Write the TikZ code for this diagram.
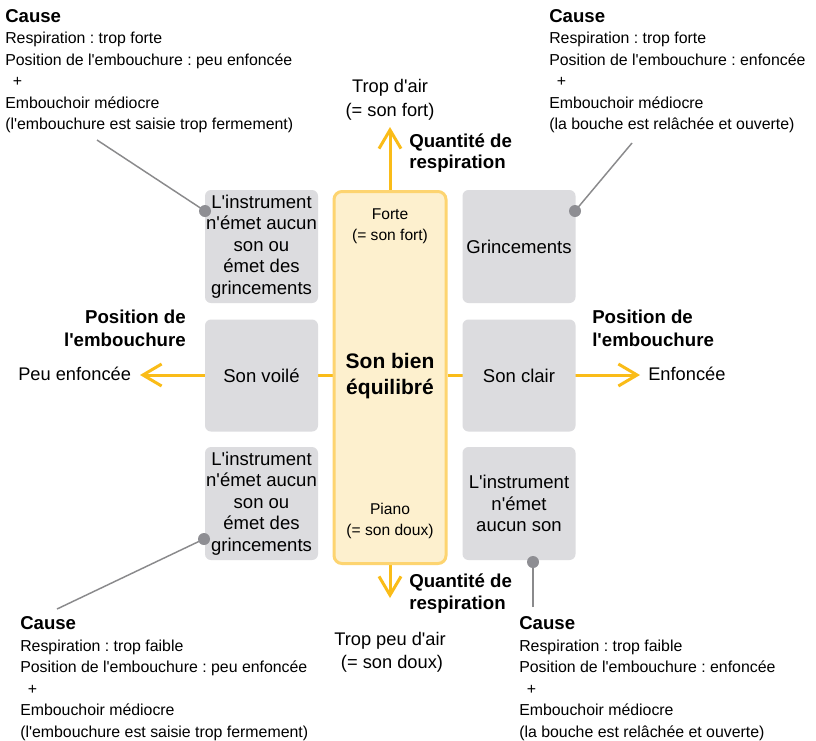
\documentclass[tikz,border=0pt]{standalone}
\usepackage{fontspec}
\setmainfont{Liberation Sans}[Ligatures=TeXOff]
\usetikzlibrary{arrows.meta,backgrounds}
\definecolor{flowY}{RGB}{250,188,24}
\definecolor{midfill}{RGB}{253,240,206}
\definecolor{midborder}{RGB}{253,212,112}
\definecolor{boxgray}{RGB}{220,220,223}
\definecolor{dotgray}{RGB}{142,142,147}
\definecolor{leadgray}{RGB}{138,138,140}
\frenchspacing
\begin{document}
\begin{tikzpicture}[x=0.75pt,y=-0.75pt,
  chead/.style={anchor=base west,inner sep=0,font=\bfseries\fontsize{13.95}{16}\selectfont},
  cbody/.style={anchor=base west,inner sep=0,font=\fontsize{11.9}{14}\selectfont},
  lbl/.style={inner sep=0,font=\fontsize{13.7}{16}\selectfont},
  blbl/.style={inner sep=0,font=\bfseries\fontsize{14}{16}\selectfont},
  small/.style={inner sep=0,anchor=base,font=\fontsize{11.7}{14}\selectfont},
  graybox/.style={fill=boxgray,rounded corners=4.5pt,minimum width=84.75pt,minimum height=84.75pt,align=center,inner sep=0,font=\fontsize{13.9}{16.125}\selectfont},
  flow/.style={draw=flowY,line width=2.25pt,-{Straight Barb[length=14pt,width=16.5pt]}},
  leader/.style={draw=leadgray,line width=1.1pt},
  dotmark/.style={fill=dotgray}
]
\useasboundingbox (0,0) rectangle (816,740);

% central box
\node[draw=midborder,fill=midfill,line width=2.25pt,rounded corners=6pt,minimum width=84pt,minimum height=279pt,inner sep=0] (mid) at (390,377.5) {};
\node[small] (forte) at (390,219.7) {Forte};
\node[small] (fortep) at (390,240.7) {(= son fort)};
\node[inner sep=0,anchor=base,font=\bfseries\fontsize{15.75}{19.5}\selectfont] (sb1) at (390,368.3) {Son bien};
\node[inner sep=0,anchor=base,font=\bfseries\fontsize{15.75}{19.5}\selectfont] (sb2) at (390,394.3) {équilibré};
\node[small] (piano) at (390,514.7) {Piano};
\node[small] (pianop) at (390,535.7) {(= son doux)};

% gray boxes
\node[graybox] (tl) at (261.5,246.5) {L'instrument\\n'émet aucun\\son ou\\émet des\\grincements};
\node[graybox,minimum height=84pt] (ml) at (261.5,375.5) {Son voilé};
\node[graybox] (bl) at (261.5,503.5) {L'instrument\\n'émet aucun\\son ou\\émet des\\grincements};
\node[graybox] (tr) at (519,246.5) {Grincements};
\node[graybox,minimum height=84pt] (mr) at (519,375.5) {Son clair};
\node[graybox] (br) at (519,503.5) {L'instrument\\n'émet\\aucun son};

% axes
\coordinate (tipL) at (140,375);
\coordinate (tipR) at (640,375);
\coordinate (tipT) at (390,127);
\coordinate (tipB) at (390,598);
\begin{scope}[on background layer]
\fill[white] (0,0) rectangle (816,740);
\draw[flow] (mid.west |- tipL) -- (tipL);
\draw[flow] (mid.east |- tipR) -- (tipR);
\draw[flow] (mid.north) -- (tipT);
\draw[flow] (mid.south) -- (tipB);
\end{scope}

% axis labels
\node[lbl,anchor=base] (air1) at (390,92.5) {Trop d'air};
\node[lbl,anchor=base] (air2) at (390,116.5) {(= son fort)};
\node[blbl,anchor=base west] (qt1) at (409,147.5) {Quantité de};
\node[blbl,anchor=base west] (qt2) at (409,168) {respiration};
\node[blbl,anchor=base west] (qb1) at (409,587.5) {Quantité de};
\node[blbl,anchor=base west] (qb2) at (409,609.5) {respiration};
\node[lbl,anchor=base] (pa1) at (390,645.5) {Trop peu d'air};
\node[lbl,anchor=base] (pa2) at (392,668.5) {(= son doux)};
\node[blbl,anchor=base east] (pl1) at (186,323.5) {Position de};
\node[blbl,anchor=base east] (pl2) at (186,346.5) {l'embouchure};
\node[lbl,anchor=base west] (pe) at (18,380.5) {Peu enfoncée};
\node[blbl,anchor=base west] (pr1) at (592,323.5) {Position de};
\node[blbl,anchor=base west] (pr2) at (592,346.5) {l'embouchure};
\node[lbl,anchor=base west] (en) at (648,380.5) {Enfoncée};

% cause top-left
\node[chead] (atlh) at (5,22) {Cause};
\node[cbody] (atl1) at (5,43.5) {Respiration : trop forte};
\node[cbody] (atl2) at (5,65) {Position de l'embouchure : peu enfoncée};
\node[cbody] (atl3) at (12.5,86.5) {+};
\node[cbody] (atl4) at (5,108) {Embouchoir médiocre};
\node[cbody] (atl5) at (5,129.5) {(l'embouchure est saisie trop fermement)};

% cause top-right
\node[chead] (atrh) at (549,22) {Cause};
\node[cbody] (atr1) at (549,43.5) {Respiration : trop forte};
\node[cbody] (atr2) at (549,65) {Position de l'embouchure : enfoncée};
\node[cbody] (atr3) at (556.5,86.5) {+};
\node[cbody] (atr4) at (549,108) {Embouchoir médiocre};
\node[cbody] (atr5) at (549,129.5) {(la bouche est relâchée et ouverte)};

% cause bottom-left
\node[chead] (ablh) at (20,629.5) {Cause};
\node[cbody] (abl1) at (20,651) {Respiration : trop faible};
\node[cbody] (abl2) at (20,672.5) {Position de l'embouchure : peu enfoncée};
\node[cbody] (abl3) at (27.5,694) {+};
\node[cbody] (abl4) at (20,715.5) {Embouchoir médiocre};
\node[cbody] (abl5) at (20,737) {(l'embouchure est saisie trop fermement)};

% cause bottom-right
\node[chead] (abrh) at (519,629.5) {Cause};
\node[cbody] (abr1) at (519,651) {Respiration : trop faible};
\node[cbody] (abr2) at (519,672.5) {Position de l'embouchure : enfoncée};
\node[cbody] (abr3) at (526.5,694) {+};
\node[cbody] (abr4) at (519,715.5) {Embouchoir médiocre};
\node[cbody] (abr5) at (519,737) {(la bouche est relâchée et ouverte)};

% leaders
\coordinate (etl) at (97,140);
\coordinate (dtl) at (205,211);
\coordinate (etr) at (632,143);
\coordinate (dtr) at (575,211);
\coordinate (ebl) at (57,609);
\coordinate (dbl) at (204,539);
\coordinate (ebr) at (533,607);
\coordinate (dbr) at (533,562);
\draw[leader] (etl) -- (dtl);
\draw[leader] (etr) -- (dtr);
\draw[leader] (ebl) -- (dbl);
\draw[leader] (ebr) -- (dbr);
\fill[dotmark] (dtl) circle (4.5pt);
\fill[dotmark] (dtr) circle (4.5pt);
\fill[dotmark] (dbl) circle (4.5pt);
\fill[dotmark] (dbr) circle (4.5pt);
\end{tikzpicture}
\end{document}
